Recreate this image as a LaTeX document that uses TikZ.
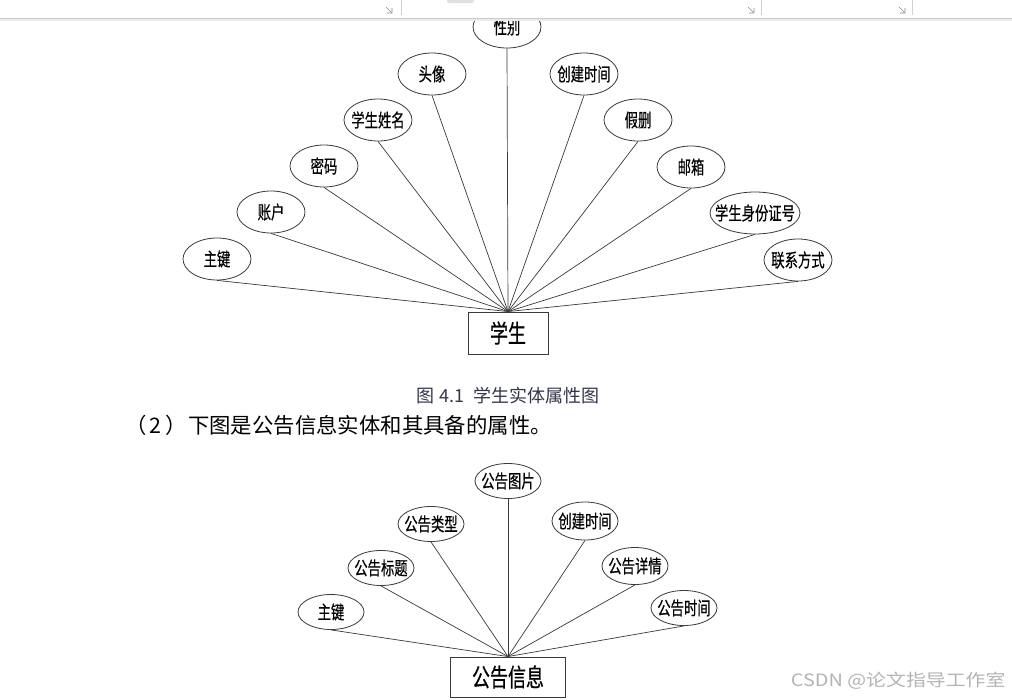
\documentclass[tikz,border=0pt]{standalone}
\usepackage{fontspec}
\setmainfont{Noto Sans CJK SC}
\newfontfamily\erfont[FakeStretch=0.72,FakeBold=0.4]{Noto Sans CJK SC}
\newfontfamily\markfont[FakeStretch=1.17]{Noto Sans CJK SC}
\usetikzlibrary{shapes.geometric}
\definecolor{erInk}{HTML}{3A3A3A}
\definecolor{capInk}{HTML}{33364A}
\definecolor{barRule}{HTML}{C9CACF}
\definecolor{markGray}{HTML}{8A8A8A}
\definecolor{wmGray}{HTML}{B4B4B4}
\tikzset{
  erAttr/.style={
    ellipse,
    draw=erInk,
    line width=0.8pt,
    minimum width=68pt,
    minimum height=42pt,
    inner xsep=-5pt,
    inner ysep=0pt,
    font=\erfont\fontsize{18.5}{18.5}\selectfont
  },
  erAttrSmall/.style={erAttr, minimum width=66pt, minimum height=35pt},
  erEntity/.style={
    draw=erInk,
    line width=0.9pt,
    inner sep=0pt,
    font=\erfont\fontsize{25}{25}\selectfont
  },
  erLink/.style={erInk, line width=0.7pt},
  captionText/.style={font=\fontsize{18}{18}\selectfont, text=capInk},
  bodyText/.style={font=\fontsize{21.4}{21.4}\selectfont, anchor=west},
  markText/.style={font=\markfont\fontsize{17}{17}\selectfont, text=wmGray, anchor=east},
  barMark/.style={markGray, line width=0.6pt}
}

\begin{document}
\begin{tikzpicture}[x=1pt,y=-1pt]
  \useasboundingbox[fill=white] (0,0) rectangle (1012,699);

  \node[erEntity, minimum width=80pt, minimum height=42pt] (stu) at (508,333) {学生};
  \node[erAttr] (stuKey)     at (217,259) {主键};
  \node[erAttr] (stuAcct)    at (271,212) {账户};
  \node[erAttr] (stuPwd)     at (324,166) {密码};
  \node[erAttr] (stuName)    at (378,120) {学生姓名};
  \node[erAttr] (stuAvatar)  at (432,74)  {头像};
  \node[erAttr] (stuGender)  at (507,27)  {性别};
  \node[erAttr] (stuCreated) at (584,74)  {创建时间};
  \node[erAttr] (stuDel)     at (638,120) {假删};
  \node[erAttr] (stuMail)    at (691,167) {邮箱};
  \node[erAttr, minimum width=90pt, inner xsep=-14pt] (stuIdNo) at (755,213) {学生身份证号};
  \node[erAttr] (stuPhone)   at (798,260) {联系方式};
  \foreach \a in {stuKey,stuAcct,stuPwd,stuName,stuAvatar,stuGender,
                  stuCreated,stuDel,stuMail,stuIdNo,stuPhone}
    \draw[erLink] (\a.south) -- (stu.north);

  \fill[white] (0,0) rectangle (1012,18);
  \fill[black!12, rounded corners=2pt] (447,-4) rectangle (474,3);
  \draw[black!8, line width=1.5pt] (0,20) -- (1012,20);
  \draw[barRule, line width=1pt] (0,18) -- (1012,18);
  \foreach \xx in {401,761,912}
    \draw[black!18, line width=0.8pt] (\xx,0) -- (\xx,15);
  \foreach \xx in {390,752,903}
    \draw[barMark] (\xx-4,7) -- (\xx+1,12) (\xx-3,13) -- (\xx+2,13) -- (\xx+2,8);

  \node[captionText] (cap) at (508,396) {图\hspace{5pt}4.1\hspace{9pt}学生实体属性图};
  \node[bodyText] (para) at (122,425)
    {（\hspace{3pt}2\hspace{4pt}）\hspace{1pt}下图是公告信息实体和其具备的属性。};

  \node[erEntity, minimum width=115pt, minimum height=40pt] (ann) at (508,677) {公告信息};
  \node[erAttrSmall] (annKey)     at (331,612) {主键};
  \node[erAttrSmall] (annTitle)   at (381,568) {公告标题};
  \node[erAttrSmall] (annType)    at (431,524) {公告类型};
  \node[erAttrSmall] (annPic)     at (508,481) {公告图片};
  \node[erAttrSmall, minimum height=38pt] (annCreated) at (585,521) {创建时间};
  \node[erAttrSmall, minimum height=37pt] (annDetail)  at (635,566) {公告详情};
  \node[erAttrSmall] (annTime)    at (684,608) {公告时间};
  \foreach \a in {annKey,annTitle,annType,annPic,annCreated,annDetail,annTime}
    \draw[erLink] (\a.south) -- (ann.north);

  \node[markText] (mark) at (1009,681) {CSDN @论文指导工作室};
\end{tikzpicture}
\end{document}
